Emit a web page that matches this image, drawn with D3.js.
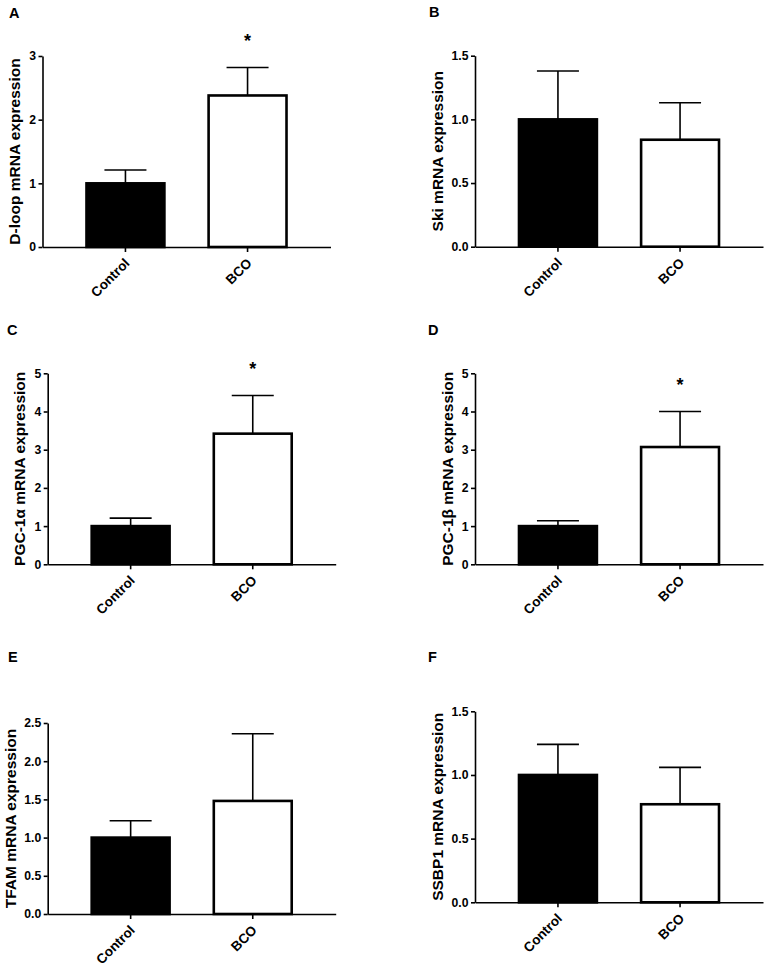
<!DOCTYPE html>
<html>
<head>
<meta charset="utf-8">
<script src="https://cdn.jsdelivr.net/npm/d3@7"></script>
<style>
  body { margin: 0; background: #fff; }
  svg { display: block; font-family: "Liberation Sans", Arial, sans-serif; font-weight: bold; }
</style>
</head>
<body>
<svg id="chart"></svg>
<script>
const width = 765
const height = 967

// data
const groups = ["Control", "BCO"]
const panelLetters = ["A", "B", "C", "D", "E", "F"]
const yTitles = [
  "D-loop mRNA expression",
  "Ski mRNA expression",
  "PGC-1\u03b1 mRNA expression",
  "PGC-1\u03b2 mRNA expression",
  "TFAM mRNA expression",
  "SSBP1 mRNA expression"
]
const means = [
  [1.0, 2.38],
  [1.0, 0.84],
  [1.0, 3.42],
  [1.0, 3.07],
  [1.0, 1.48],
  [1.0, 0.77]
]
const errors = [
  [0.21, 0.44],
  [0.38, 0.29],
  [0.21, 1.0],
  [0.14, 0.93],
  [0.22, 0.88],
  [0.24, 0.29]
]
const yMax = [3, 1.5, 5, 5, 2.5, 1.5]
const yTicks = [
  [0, 1, 2, 3],
  [0, 0.5, 1.0, 1.5],
  [0, 1, 2, 3, 4, 5],
  [0, 1, 2, 3, 4, 5],
  [0, 0.5, 1.0, 1.5, 2.0, 2.5],
  [0, 0.5, 1.0, 1.5]
]
const tickFormats = ["d", ".1f", "d", "d", ".1f", ".1f"]
const significant = [
  [false, true],
  [false, false],
  [false, true],
  [false, true],
  [false, false],
  [false, false]
]
const barFills = ["#000", "#fff"]

// panel placement (y axis x, x axis y, letter position, title gap)
const layout = [
  {ax: 42.5, bottom: 247, lx: 9, ly: 18, tg: 23},
  {ax: 475, bottom: 246.7, lx: 429, ly: 17, tg: 32},
  {ax: 47.7, bottom: 564.3, lx: 7, ly: 335, tg: 23},
  {ax: 475, bottom: 564.3, lx: 428, ly: 335, tg: 22},
  {ax: 47.7, bottom: 914, lx: 8, ly: 662, tg: 32},
  {ax: 475, bottom: 902.3, lx: 428, ly: 662, tg: 32}
]
const plotW = 288
const plotH = 191

const svg = d3.select('#chart').attr('width', width).attr('height', height)

panelLetters.forEach(function (letter, p) {
  const L = layout[p]

  svg.append('text')
    .attr('x', L.lx).attr('y', L.ly)
    .style('font-size', '14.5px')
    .text(letter)

  const g = svg.append('g')
    .attr('transform', 'translate(' + L.ax + ',' + (L.bottom - plotH) + ')')

  const x = d3.scaleBand().domain(groups).range([0, plotW])
    .paddingInner(0.3415).paddingOuter(0.35)
  const y = d3.scaleLinear().domain([0, yMax[p]]).range([plotH, 0])

  const rows = groups.map(function (name, i) {
    return {name: name, mean: means[p][i], err: errors[p][i], sig: significant[p][i], fill: barFills[i]}
  })

  // error bars (upper only)
  const eb = g.append('g').selectAll('g').data(rows).enter().append('g')
  eb.append('line')
    .attr('x1', d => x(d.name) + x.bandwidth() / 2)
    .attr('x2', d => x(d.name) + x.bandwidth() / 2)
    .attr('y1', d => y(d.mean))
    .attr('y2', d => y(d.mean + d.err))
    .attr('stroke', '#000').attr('stroke-width', 1.6)
  eb.append('line')
    .attr('x1', d => x(d.name) + x.bandwidth() / 2 - 21)
    .attr('x2', d => x(d.name) + x.bandwidth() / 2 + 21)
    .attr('y1', d => y(d.mean + d.err))
    .attr('y2', d => y(d.mean + d.err))
    .attr('stroke', '#000').attr('stroke-width', 1.6)

  // bars
  g.append('g').selectAll('rect').data(rows).enter().append('rect')
    .attr('x', d => x(d.name) + 1.25)
    .attr('width', x.bandwidth() - 2.5)
    .attr('y', d => y(d.mean))
    .attr('height', d => plotH - y(d.mean))
    .attr('fill', d => d.fill)
    .attr('stroke', '#000').attr('stroke-width', 2.6)

  // significance stars
  g.append('g').selectAll('text').data(rows.filter(d => d.sig)).enter().append('text')
    .attr('x', d => x(d.name) + x.bandwidth() / 2)
    .attr('y', d => y(d.mean + d.err) - 20)
    .attr('text-anchor', 'middle')
    .style('font-size', '18px')
    .text('*')

  // axes
  const yAxis = g.append('g')
    .call(d3.axisLeft(y).tickValues(yTicks[p]).tickFormat(d3.format(tickFormats[p])).tickSize(4).tickSizeOuter(0))
  yAxis.select('.domain').attr('stroke-width', 1.6)
  yAxis.selectAll('.tick line').attr('stroke-width', 1.6)
  yAxis.selectAll('.tick text')
    .attr('x', -6.5)
    .style('font-size', '12.2px').style('font-family', 'inherit').style('font-weight', 'bold')

  const xAxis = g.append('g')
    .attr('transform', 'translate(0,' + plotH + ')')
    .call(d3.axisBottom(x).tickSize(5).tickSizeOuter(0))
  xAxis.select('.domain').attr('stroke-width', 1.6)
  xAxis.selectAll('.tick line').attr('stroke-width', 1.6)
  xAxis.selectAll('.tick text')
    .attr('y', 0).attr('dy', 0)
    .attr('text-anchor', 'end')
    .attr('transform', 'translate(5,17) rotate(-45)')
    .style('font-size', '13.5px').style('font-family', 'inherit').style('font-weight', 'bold')

  // y title
  g.append('text')
    .attr('transform', 'translate(' + (-L.tg) + ',' + (plotH / 2) + ') rotate(-90)')
    .attr('text-anchor', 'middle')
    .style('font-size', '15.5px')
    .text(yTitles[p])
})
</script>
</body>
</html>
